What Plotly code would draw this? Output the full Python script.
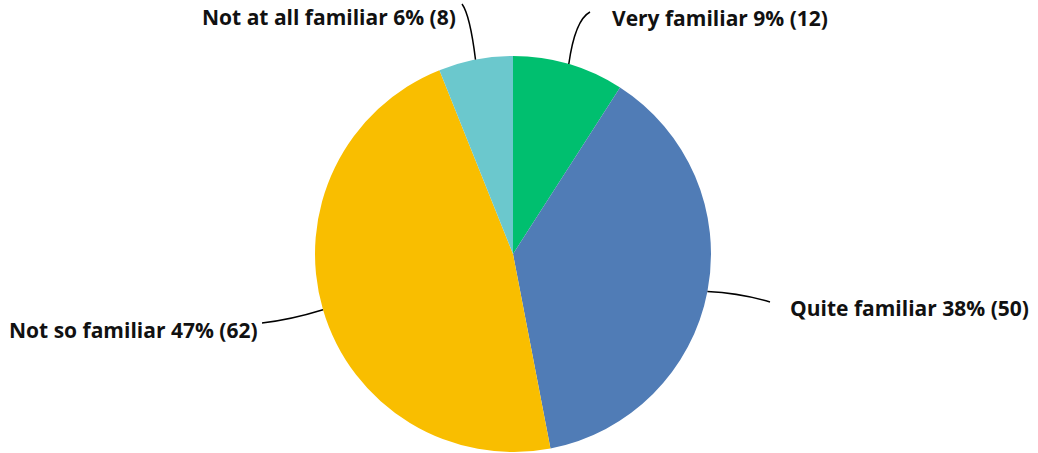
import math
import plotly.graph_objects as go

labels = ["Very familiar", "Quite familiar", "Not so familiar", "Not at all familiar"]
counts = [12, 50, 62, 8]
percents = [9, 38, 47, 6]
colors = ["#00BF6F", "#507CB6", "#F9BE00", "#6BC8CD"]

W, H = 1038, 453
cx, cy, R = 513, 254, 198

fig = go.Figure()
fig.add_trace(go.Pie(
    labels=labels, values=counts, sort=False, direction="clockwise", rotation=0,
    marker=dict(colors=colors, line=dict(width=0)),
    textinfo="none", hoverinfo="label+value+percent", showlegend=False,
    domain=dict(x=[(cx - R) / W, (cx + R) / W], y=[(H - cy - R) / H, (H - cy + R) / H]),
))

layout_spec = [
    dict(end=(590, 12), ctrl=(575, 20), tx=610, ty=18, anchor="left"),
    dict(end=(770, 302), ctrl=(740, 293), tx=788, ty=308, anchor="left"),
    dict(end=(262, 323), ctrl=(290, 320), tx=260, ty=330, anchor="right"),
    dict(end=(462, 4), ctrl=(470, 15), tx=458, ty=17, anchor="right"),
]

total = sum(counts)
cum = 0
shapes, annotations = [], []
for lab, c, p, spec in zip(labels, counts, percents, layout_spec):
    mid = (cum + c / 2) / total * 2 * math.pi
    cum += c
    sx = cx + R * math.sin(mid)
    sy = cy - R * math.cos(mid)
    ex, ey = spec["end"]
    qx, qy = spec["ctrl"]
    shapes.append(dict(type="path", xref="x", yref="y",
                       path=f"M {sx:.1f},{sy:.1f} Q {qx},{qy} {ex},{ey}",
                       line=dict(color="#000000", width=1.5)))
    annotations.append(dict(xref="x", yref="y", x=spec["tx"], y=spec["ty"],
                            text=f"{lab} {p}% ({c})", showarrow=False,
                            xanchor=spec["anchor"], yanchor="middle",
                            font=dict(family="Open Sans", size=21, color="#111111", weight="bold")))

fig.update_layout(
    width=W, height=H, margin=dict(l=0, r=0, t=0, b=0),
    paper_bgcolor="white", plot_bgcolor="rgba(0,0,0,0)",
    xaxis=dict(range=[0, W], visible=False, fixedrange=True, domain=[0, 1]),
    yaxis=dict(range=[H, 0], visible=False, fixedrange=True, domain=[0, 1]),
    shapes=shapes, annotations=annotations,
)
fig.write_html("out.html", config={"displayModeBar": False},
               post_script="document.body.style.margin='0';")
